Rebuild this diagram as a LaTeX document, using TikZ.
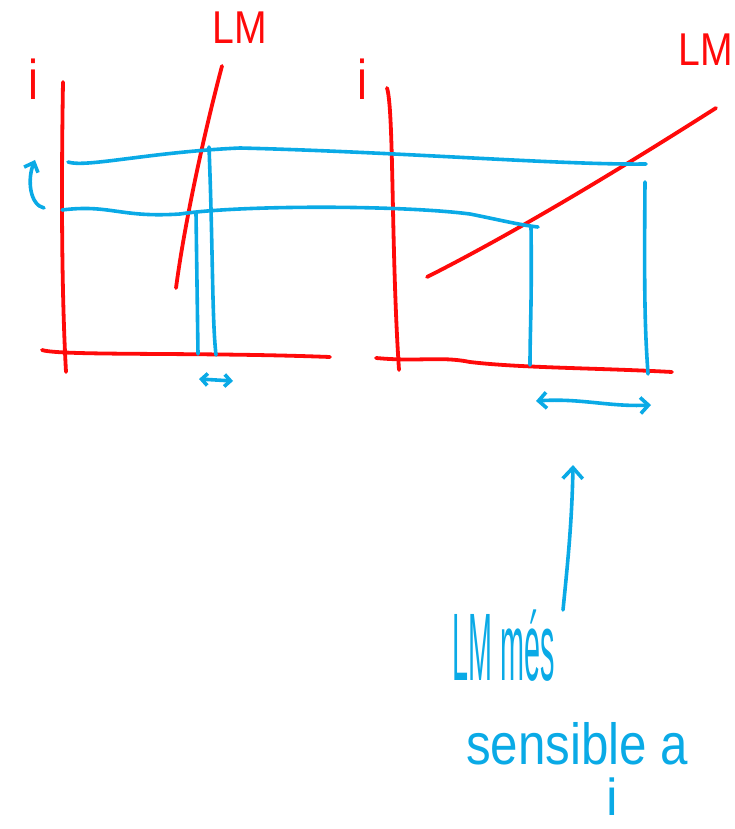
\documentclass[tikz,border=0pt]{standalone}
\usepackage{fontspec}
\setmainfont{Liberation Sans}
\usetikzlibrary{arrows.meta}
\definecolor{pen}{RGB}{255,10,10}
\definecolor{ink}{RGB}{10,170,230}
\begin{document}
\begin{tikzpicture}[x=1pt,y=-1pt,
  redline/.style={draw=pen,line width=3.8pt,line cap=round,line join=round},
  blueline/.style={draw=ink,line width=3.6pt,line cap=round,line join=round},
  redlabel/.style={text=pen,font=\fontsize{46}{48}\selectfont,inner sep=0pt},
  bluelabel/.style={text=ink,font=\fontsize{58}{60}\selectfont,inner sep=0pt},
  arr/.style={-{Straight Barb[length=8pt,width=15pt]}}]
\useasboundingbox (0,0) rectangle (734,829);
% coordinates
\coordinate (LyT) at (63,82);  \coordinate (LyB) at (66,372);
\coordinate (LxL) at (42,350); \coordinate (LxR) at (330,357);
\coordinate (LMaT) at (222,66); \coordinate (LMaB) at (176,288);
\coordinate (RyT) at (387,88); \coordinate (RyB) at (399,370);
\coordinate (RxL) at (376,358); \coordinate (RxR) at (672,372);
\coordinate (LMbB) at (427,277); \coordinate (LMbT) at (716,108);
\coordinate (U0) at (68,162); \coordinate (U1) at (646,164);
\coordinate (D0) at (62,210); \coordinate (D1) at (538,227);
% red axes
\draw[redline] (LyT) .. controls (61,200) and (62,300) .. (LyB);
\draw[redline] (LxL) .. controls (60,356) and (200,352) .. (LxR);
\draw[redline] (RyT) .. controls (394,110) and (391,250) .. (RyB);
\draw[redline] (RxL) .. controls (420,362) and (440,356) .. (470,362) .. controls (520,368) and (600,368) .. (RxR);
% LM curves
\draw[redline] (LMaT) .. controls (205,130) and (185,220) .. (LMaB);
\draw[redline] (LMbB) .. controls (530,225) and (650,150) .. (LMbT);
% blue horizontal guide lines
\draw[blueline] (U0) .. controls (85,168) and (150,152) .. (240,148) .. controls (400,152) and (560,165) .. (U1);
\draw[blueline] (D0) .. controls (110,204) and (120,218) .. (180,214) .. controls (240,205) and (400,205) .. (470,214) .. controls (500,220) and (520,225) .. (D1);
% blue verticals
\coordinate (v1t) at (196,213); \coordinate (v1b) at (198,354);
\coordinate (v2t) at (209,147); \coordinate (v2b) at (216,355);
\coordinate (v3t) at (531,227); \coordinate (v3b) at (530,365);
\coordinate (v4t) at (645,182); \coordinate (v4b) at (648,374);
\draw[blueline] (v1t) -- (v1b);
\draw[blueline] (v2t) .. controls (213,250) and (212,320) .. (v2b);
\draw[blueline] (v3t) .. controls (532,300) and (530,330) .. (v3b);
\draw[blueline] (v4t) .. controls (644,300) and (645,330) .. (v4b);
% double arrows
\coordinate (da1) at (199,379); \coordinate (da2) at (233,381);
\draw[blueline,{Straight Barb[length=6pt,width=12pt]}-{Straight Barb[length=6pt,width=12pt]}] (da1) -- (da2);
\coordinate (db1) at (536,401); \coordinate (db2) at (651,405);
\draw[blueline,{Straight Barb[length=8pt,width=16pt]}-{Straight Barb[length=8pt,width=16pt]}] (db1) .. controls (580,398) and (610,407) .. (db2);
% curved up arrow
\coordinate (ca1) at (44,208); \coordinate (ca2) at (35,160);
\draw[blueline,arr] (ca1) .. controls (30,205) and (27,180) .. (ca2);
% labels
\node[redlabel,font=\fontsize{56}{58}\selectfont,xscale=0.8,transform shape,anchor=south] (iL) at (33,100) {i};
\node[redlabel,font=\fontsize{56}{58}\selectfont,xscale=0.8,transform shape,anchor=south] (iR) at (362,100) {i};
\node[redlabel,xscale=0.85,transform shape] (lmL) at (240,28) {LM};
\node[redlabel,xscale=0.85,transform shape] (lmR) at (706,50) {LM};
\node[bluelabel,font=\fontsize{96}{100}\selectfont,anchor=south west,xscale=0.3,transform shape] (txt1) at (452,682) {LM més};
\node[bluelabel,anchor=south west,xscale=0.85,transform shape] (txt2) at (466,765) {sensible a};
\node[bluelabel,font=\fontsize{52}{54}\selectfont,anchor=south] (txt3) at (612,816) {i};
% big arrow
\draw[blueline,-{Straight Barb[length=11pt,width=20pt]}] (563,610) .. controls (568,560) and (572,520) .. (573,465);
\end{tikzpicture}
\end{document}
